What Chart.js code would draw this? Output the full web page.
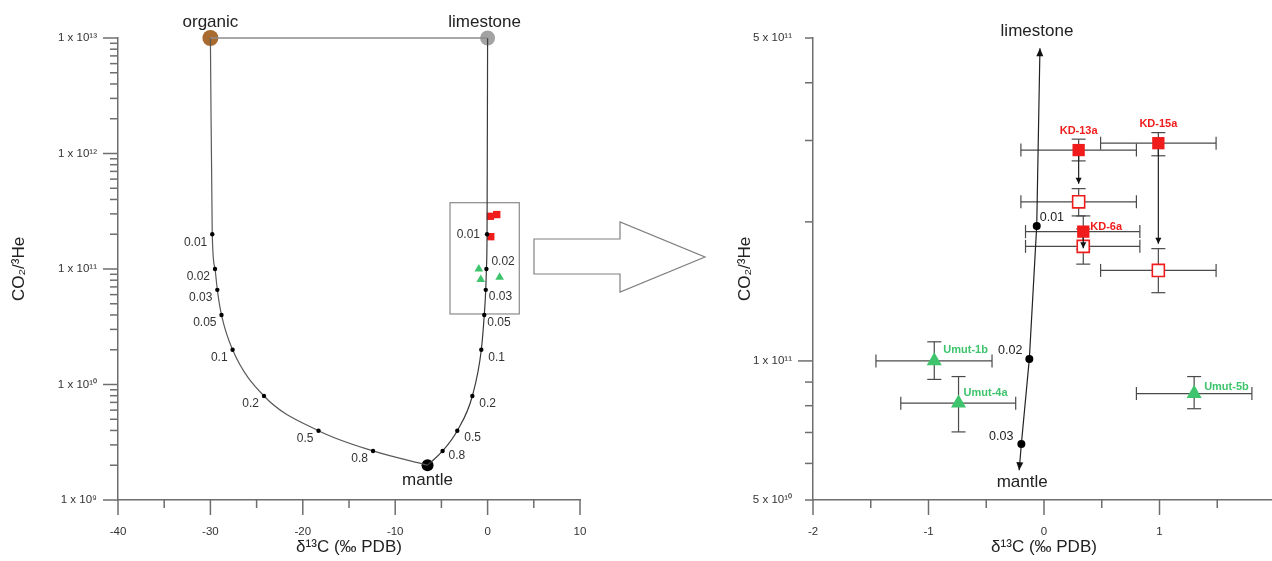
<!DOCTYPE html>
<html>
<head>
<meta charset="utf-8">
<title>CO2/3He vs d13C</title>
<script src="https://cdn.jsdelivr.net/npm/chart.js@4.4.0/dist/chart.umd.min.js"></script>
<style>
  html, body { margin: 0; padding: 0; background: #fff; overflow: hidden; }
  #wrap { position: relative; width: 1272px; height: 561px; overflow: hidden; }
  #leftChart { position: absolute; left: 0; top: 0; }
  #rightChart { position: absolute; left: 700px; top: 0; }
  #bigArrow { position: absolute; left: 0; top: 0; }
</style>
</head>
<body>
<div id="wrap">
  <canvas id="leftChart" width="620" height="561"></canvas>
  <canvas id="rightChart" width="600" height="561"></canvas>
  <svg id="bigArrow" width="1272" height="561">
    <polygon points="534,239 620,239 620,222 705,257 620,292 620,274 534,274" fill="none" stroke="#808080" stroke-width="1.2"/>
  </svg>
</div>
<script>
'use strict';

const FONT = "'Liberation Sans', Arial, sans-serif";

// end-members
const endNames = ['organic', 'limestone', 'mantle'];
const endD13C = [-30, 0, -6.5];
const endCO2He = [1e13, 1e13, 2e9];

// mixing curves (fraction of mantle carbon)
const mixFractions = [0.01, 0.02, 0.03, 0.05, 0.1, 0.2, 0.5, 0.8];
const orgMixD13C = [-29.8, -29.5, -29.25, -28.8, -27.6, -24.2, -18.3, -12.4];
const orgMixCO2He = [2.0e11, 1.0e11, 6.6e10, 4.0e10, 2.0e10, 7.95e9, 3.98e9, 2.66e9];
const limeMixD13C = [-0.06, -0.13, -0.2, -0.36, -0.68, -1.65, -3.28, -4.87];
const limeMixCO2He = [2.0e11, 1.0e11, 6.6e10, 4.0e10, 2.0e10, 7.95e9, 3.98e9, 2.66e9];

// zoomed part of the limestone - mantle line
const zoomFractions = [0.01, 0.02, 0.03];
const zoomMixD13C = [-0.063, -0.127, -0.196];
const zoomMixCO2He = [1.96e11, 1.01e11, 6.61e10];
const zoomEndsD13C = [-0.035, -0.215];
const zoomEndsCO2He = [4.75e11, 5.8e10];

// samples
const kdNames = ['KD-13a', 'KD-15a', 'KD-6a'];
const kdD13C = [0.30, 0.99, 0.34];
const kdD13CLow = [-0.20, 0.49, -0.16];
const kdD13CHigh = [0.80, 1.49, 0.83];
const kdCO2He = [2.86e11, 2.96e11, 1.905e11];
const kdCO2HeLow = [2.71e11, 2.78e11, 1.745e11];
const kdCO2HeHigh = [3.02e11, 3.12e11, 2.06e11];
const kdCorrCO2He = [2.21e11, 1.57e11, 1.77e11];
const kdCorrLow = [2.06e11, 1.405e11, 1.62e11];
const kdCorrHigh = [2.36e11, 1.75e11, 1.93e11];

const umNames = ['Umut-1b', 'Umut-4a', 'Umut-5b'];
const umD13C = [-0.95, -0.74, 1.30];
const umD13CLow = [-1.455, -1.24, 0.80];
const umD13CHigh = [-0.45, -0.245, 1.80];
const umCO2He = [1.0e11, 8.1e10, 8.5e10];
const umCO2HeLow = [9.12e10, 7.02e10, 7.88e10];
const umCO2HeHigh = [1.10e11, 9.25e10, 9.25e10];

// axes
const leftXTicks = [-40, -30, -20, -10, 0, 10];
const leftXMinor = [-35, -25, -15, -5, 5];
const leftYTicks = [1e9, 1e10, 1e11, 1e12, 1e13];
const leftYTickLabels = ['1 x 10⁹', '1 x 10¹⁰', '1 x 10¹¹', '1 x 10¹²', '1 x 10¹³'];
const rightXTicks = [-2, -1, 0, 1, 2];
const rightXMinor = [-1.5, -0.5, 0.5, 1.5];
const rightYTicks = [5e10, 1e11, 5e11];
const rightYTickLabels = ['5 x 10¹⁰', '1 x 10¹¹', '5 x 10¹¹'];
const xTitle = 'δ¹³C (‰ PDB)';
const yTitle = 'CO₂/³He';

// layout bits (label offsets in px, inset box)
const endLabelDx = [0, -3, 0];
const endLabelDy = [-16, -16, 15];
const limeLabelDx = [-7, 5, 3, 3, 7, 7, 7, 6];
const limeLabelDy = [0, -7, 7, 8, 8, 8, 7, 5];
const zoomBox = { x0: -4.07, x1: 3.43, y0: 4.08e10, y1: 3.75e11 };
const RED = '#f01c1c';
const GREEN = '#3ec46c';

function xy(xs, ys) {
  return xs.map((x, i) => ({ x: x, y: ys[i] }));
}

function seg(ctx, a, b, c, d) {
  ctx.beginPath();
  ctx.moveTo(a, b);
  ctx.lineTo(c, d);
  ctx.stroke();
}

function arrowHead(ctx, fx, fy, tx, ty, len, half) {
  const ang = Math.atan2(ty - fy, tx - fx);
  const c = Math.cos(ang), s = Math.sin(ang);
  ctx.beginPath();
  ctx.moveTo(tx, ty);
  ctx.lineTo(tx - len * c + half * s, ty - len * s - half * c);
  ctx.lineTo(tx - len * c - half * s, ty - len * s + half * c);
  ctx.closePath();
  ctx.fill();
}

// tick marks, boxes, error bars, arrows and text labels
const decorPlugin = {
  id: 'decor',
  beforeDatasetsDraw(chart, args, opts) {
    const ctx = chart.ctx, xs = chart.scales.x, ys = chart.scales.y;
    ctx.save();
    ctx.strokeStyle = '#6e6e6e';
    ctx.lineWidth = 1.5;
    opts.xMajor.forEach(v => { const p = xs.getPixelForValue(v); seg(ctx, p, xs.top, p, xs.top + 15); });
    opts.xMinor.forEach(v => { const p = xs.getPixelForValue(v); seg(ctx, p, xs.top, p, xs.top + 8); });
    opts.yMajor.forEach(v => { const p = ys.getPixelForValue(v); seg(ctx, ys.right, p, ys.right - 15, p); });
    opts.yMinor.forEach(v => { const p = ys.getPixelForValue(v); seg(ctx, ys.right, p, ys.right - 8, p); });

    if (opts.box) {
      const b = opts.box;
      const l = xs.getPixelForValue(b.x0), r = xs.getPixelForValue(b.x1);
      const t = ys.getPixelForValue(b.y1), btm = ys.getPixelForValue(b.y0);
      ctx.strokeStyle = '#8a8a8a';
      ctx.lineWidth = 1.2;
      ctx.strokeRect(l, t, r - l, btm - t);
    }

    if (opts.errors) {
      ctx.strokeStyle = '#4a4a4a';
      ctx.lineWidth = 1.2;
      opts.errors.forEach(e => {
        const px = xs.getPixelForValue(e.x), py = ys.getPixelForValue(e.y);
        const a = xs.getPixelForValue(e.xl), b = xs.getPixelForValue(e.xh);
        const u = ys.getPixelForValue(e.yh), d = ys.getPixelForValue(e.yl);
        seg(ctx, a, py, b, py);
        seg(ctx, a, py - 6.5, a, py + 6.5);
        seg(ctx, b, py - 6.5, b, py + 6.5);
        seg(ctx, px, u, px, d);
        seg(ctx, px - 7, u, px + 7, u);
        seg(ctx, px - 7, d, px + 7, d);
      });
    }
    ctx.restore();
  },
  afterDatasetsDraw(chart, args, opts) {
    const ctx = chart.ctx, xs = chart.scales.x, ys = chart.scales.y;
    ctx.save();
    ctx.strokeStyle = '#222';
    ctx.fillStyle = '#111';
    ctx.lineWidth = 1.2;

    if (opts.lineEnds) {
      const pts = chart.getDatasetMeta(0).data;
      const n = pts.length;
      arrowHead(ctx, pts[1].x, pts[1].y, pts[0].x, pts[0].y, 8, 3.5);
      arrowHead(ctx, pts[n - 2].x, pts[n - 2].y, pts[n - 1].x, pts[n - 1].y, 8, 3.5);
    }

    if (opts.shifts) {
      opts.shifts.forEach(s => {
        const px = xs.getPixelForValue(s.x);
        const from = ys.getPixelForValue(s.y0) + 6;
        let tip = ys.getPixelForValue(s.capY) - 5;
        if (tip < from + 8) tip = ys.getPixelForValue(s.y1) + 2;
        seg(ctx, px, from, px, tip);
        arrowHead(ctx, px, from, px, tip, 6, 3);
      });
    }

    (opts.texts || []).forEach(t => {
      ctx.font = (t.bold ? 'bold ' : '') + t.size + 'px ' + FONT;
      ctx.fillStyle = t.color || '#222';
      ctx.textAlign = t.align;
      ctx.textBaseline = 'middle';
      ctx.fillText(t.text, xs.getPixelForValue(t.x) + t.dx, ys.getPixelForValue(t.y) + t.dy);
    });
    ctx.restore();
  }
};

function scales(o) {
  const tickFont = { family: FONT, size: 11.5 };
  return {
    x: {
      type: 'linear', min: o.xMin, max: o.xMax,
      afterBuildTicks: s => { s.ticks = o.xTicks.map(v => ({ value: v })); },
      ticks: { font: tickFont, color: '#333', padding: 10, maxRotation: 0, autoSkip: false },
      grid: { drawOnChartArea: false, tickLength: 15, color: 'rgba(0,0,0,0)' },
      border: { color: '#6e6e6e', width: 1.5 },
      title: { display: true, text: xTitle, color: '#222', font: { family: FONT, size: 17 }, padding: { top: 0, bottom: 3 } },
      afterFit: s => { s.height = 61; }
    },
    y: {
      type: 'logarithmic', min: o.yMin, max: o.yMax,
      afterBuildTicks: s => { s.ticks = o.yTicks.map(v => ({ value: v })); },
      ticks: { font: tickFont, color: '#333', padding: 6, autoSkip: false, callback: (v, i) => o.yLabels[i] },
      grid: { drawOnChartArea: false, tickLength: 15, color: 'rgba(0,0,0,0)' },
      border: { color: '#6e6e6e', width: 1.5 },
      title: { display: true, text: yTitle, color: '#222', font: { family: FONT, size: 17 }, padding: { top: o.yTitlePad, bottom: 0 } },
      afterFit: s => { s.width = o.yWidth; }
    }
  };
}

// ---------- left chart ----------
const organic = { x: endD13C[0], y: endCO2He[0] };
const limestone = { x: endD13C[1], y: endCO2He[1] };
const mantle = { x: endD13C[2], y: endCO2He[2] };

const orgCurve = [organic].concat(xy(orgMixD13C, orgMixCO2He), [mantle]);
const limeCurve = [mantle].concat(xy(limeMixD13C, limeMixCO2He).reverse(), [limestone]);

const leftTexts = [];
endNames.forEach((n, i) => {
  leftTexts.push({ x: endD13C[i], y: endCO2He[i], text: n, dx: endLabelDx[i], dy: endLabelDy[i], align: 'center', size: 17 });
});
mixFractions.forEach((f, i) => {
  leftTexts.push({ x: orgMixD13C[i], y: orgMixCO2He[i], text: String(f), dx: -5, dy: 8, align: 'right', size: 12, color: '#333' });
  leftTexts.push({ x: limeMixD13C[i], y: limeMixCO2He[i], text: String(f), dx: limeLabelDx[i], dy: limeLabelDy[i], align: i === 0 ? 'right' : 'left', size: 12, color: '#333' });
});

const leftYMinor = [];
leftYTicks.slice(0, -1).forEach(d => { for (let k = 2; k <= 9; k++) leftYMinor.push(d * k); });

const endPoint = n => (c => (c.dataIndex === 0 || c.dataIndex === n - 1) ? 0 : 2.2);

new Chart(document.getElementById('leftChart'), {
  type: 'scatter',
  data: {
    datasets: [
      { data: [organic, limestone], showLine: true, borderColor: '#8c8c8c', borderWidth: 1.5, pointRadius: 0, clip: false },
      { data: orgCurve, showLine: true, borderColor: '#5a5a5a', borderWidth: 1.2, cubicInterpolationMode: 'monotone',
        pointRadius: endPoint(orgCurve.length), pointBackgroundColor: '#000', pointBorderWidth: 0, clip: false },
      { data: limeCurve, showLine: true, borderColor: '#3a3a3a', borderWidth: 1.2, cubicInterpolationMode: 'monotone',
        pointRadius: endPoint(limeCurve.length), pointBackgroundColor: '#000', pointBorderWidth: 0, clip: false },
      { data: [organic, limestone, mantle], pointRadius: [8, 7.5, 6],
        pointBackgroundColor: ['#a86b30', '#a3a3a3', '#000'], pointBorderWidth: 0, clip: false },
      { data: xy(kdD13C, kdCO2He), pointStyle: 'rect', pointRadius: 5.2, pointBackgroundColor: RED, pointBorderWidth: 0, clip: false },
      { data: xy(umD13C, umCO2He), pointStyle: 'triangle', pointRadius: 5, pointBackgroundColor: GREEN, pointBorderWidth: 0, clip: false }
    ]
  },
  options: {
    responsive: false,
    animation: false,
    layout: { padding: { left: 0, right: 40, top: 38, bottom: 0 } },
    scales: scales({ xMin: -40, xMax: 10, xTicks: leftXTicks, yMin: 1e9, yMax: 1e13, yTicks: leftYTicks,
                     yLabels: leftYTickLabels, yWidth: 118, yTitlePad: 8.8 }),
    plugins: {
      legend: { display: false },
      tooltip: { enabled: false },
      decor: { xMajor: leftXTicks, xMinor: leftXMinor, yMajor: leftYTicks, yMinor: leftYMinor, box: zoomBox, texts: leftTexts }
    }
  },
  plugins: [decorPlugin]
});

// ---------- right chart ----------
const zoomLine = [{ x: zoomEndsD13C[0], y: zoomEndsCO2He[0] }].concat(
  xy(zoomMixD13C, zoomMixCO2He), [{ x: zoomEndsD13C[1], y: zoomEndsCO2He[1] }]);

const errors = [];
kdNames.forEach((n, i) => {
  errors.push({ x: kdD13C[i], y: kdCO2He[i], xl: kdD13CLow[i], xh: kdD13CHigh[i], yl: kdCO2HeLow[i], yh: kdCO2HeHigh[i] });
  errors.push({ x: kdD13C[i], y: kdCorrCO2He[i], xl: kdD13CLow[i], xh: kdD13CHigh[i], yl: kdCorrLow[i], yh: kdCorrHigh[i] });
});
umNames.forEach((n, i) => {
  errors.push({ x: umD13C[i], y: umCO2He[i], xl: umD13CLow[i], xh: umD13CHigh[i], yl: umCO2HeLow[i], yh: umCO2HeHigh[i] });
});

const shifts = kdNames.map((n, i) => ({ x: kdD13C[i], y0: kdCO2He[i], y1: kdCorrCO2He[i], capY: kdCorrHigh[i] }));

const kdLabelPlace = [[0, -19, 'center'], [0, -19, 'center'], [7, -5, 'left']];
const umLabelPlace = [[9, -11], [5, -10], [10, -7]];
const zoomLabelPlace = [[3, -8, 'left'], [-7, -8, 'right'], [-8, -7, 'right']];

const rightTexts = [
  { x: zoomEndsD13C[0], y: zoomEndsCO2He[0], text: 'limestone', dx: -3, dy: -17, align: 'center', size: 17 },
  { x: zoomEndsD13C[1], y: zoomEndsCO2He[1], text: 'mantle', dx: 3, dy: 12, align: 'center', size: 17 }
];
kdNames.forEach((n, i) => {
  const p = kdLabelPlace[i];
  rightTexts.push({ x: kdD13C[i], y: kdCO2He[i], text: n, dx: p[0], dy: p[1], align: p[2], size: 11, bold: true, color: RED });
});
umNames.forEach((n, i) => {
  const p = umLabelPlace[i];
  rightTexts.push({ x: umD13C[i], y: umCO2He[i], text: n, dx: p[0], dy: p[1], align: 'left', size: 11, bold: true, color: GREEN });
});
zoomFractions.forEach((f, i) => {
  const p = zoomLabelPlace[i];
  rightTexts.push({ x: zoomMixD13C[i], y: zoomMixCO2He[i], text: String(f), dx: p[0], dy: p[1], align: p[2], size: 12.5, color: '#222' });
});

new Chart(document.getElementById('rightChart'), {
  type: 'scatter',
  data: {
    datasets: [
      { data: zoomLine, showLine: true, borderColor: '#222', borderWidth: 1.2,
        pointRadius: zoomLine.map((p, i) => (i === 0 || i === zoomLine.length - 1) ? 0 : 4),
        pointBackgroundColor: '#000', pointBorderWidth: 0, clip: false },
      { data: xy(kdD13C, kdCorrCO2He), pointStyle: 'rect', pointRadius: 8.5, pointBackgroundColor: '#fff',
        pointBorderColor: RED, pointBorderWidth: 1.6, clip: false },
      { data: xy(kdD13C, kdCO2He), pointStyle: 'rect', pointRadius: 8.7, pointBackgroundColor: RED, pointBorderWidth: 0, clip: false },
      { data: xy(umD13C, umCO2He), pointStyle: 'triangle', pointRadius: 8.7, pointBackgroundColor: GREEN, pointBorderWidth: 0, clip: false }
    ]
  },
  options: {
    responsive: false,
    animation: false,
    layout: { padding: { left: 0, right: 25, top: 38, bottom: 0 } },
    scales: scales({ xMin: -2, xMax: 2, xTicks: rightXTicks, yMin: 5e10, yMax: 5e11, yTicks: rightYTicks,
                     yLabels: rightYTickLabels, yWidth: 113, yTitlePad: 34.8 }),
    plugins: {
      legend: { display: false },
      tooltip: { enabled: false },
      decor: { xMajor: rightXTicks, xMinor: rightXMinor, yMajor: [1e11],
               yMinor: [5e10, 6e10, 7e10, 8e10, 9e10, 2e11, 3e11, 4e11, 5e11],
               errors: errors, shifts: shifts, lineEnds: true, texts: rightTexts }
    }
  },
  plugins: [decorPlugin]
});
</script>
</body>
</html>
